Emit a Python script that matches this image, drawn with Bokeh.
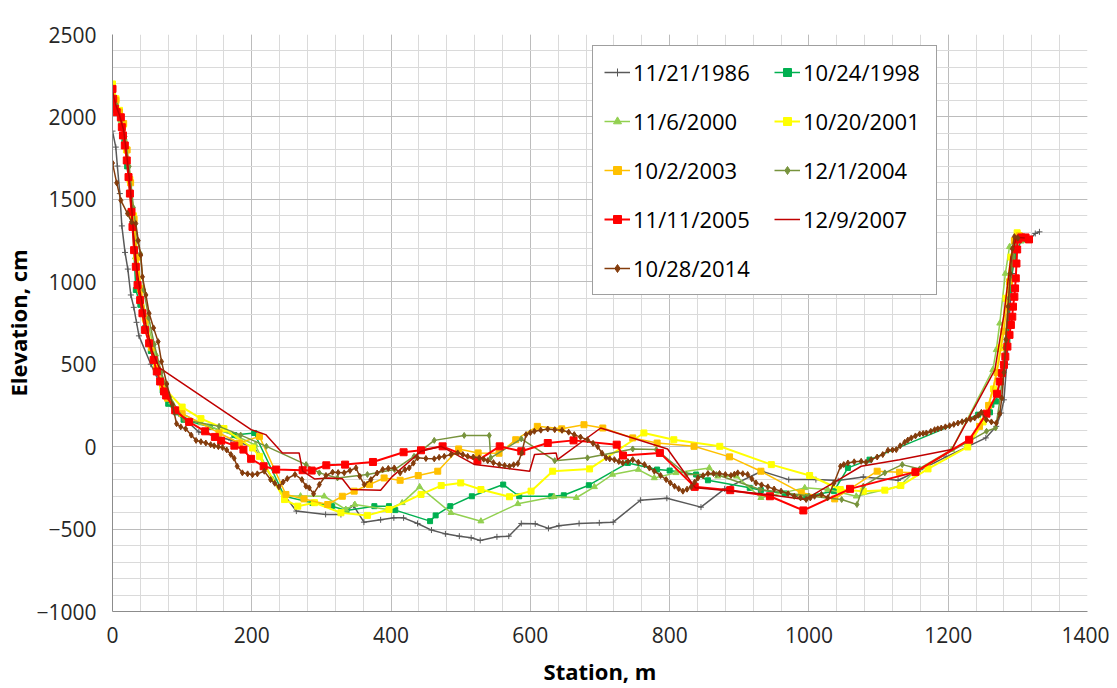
from bokeh.plotting import figure
from bokeh.models import Range1d, FixedTicker, Legend, LegendItem
from bokeh.embed import file_html
from bokeh.resources import INLINE

# ---------------- data (Station m, Elevation cm) ----------------
x_1986 = [0, 4.7, 7, 10.5, 13.4, 18, 22, 26.3, 30.6, 34.5, 38, 55, 75, 95, 124, 170, 203, 230, 264, 306, 328, 346,
          361, 385, 404, 418, 438, 458, 478, 498, 515, 528, 552, 569, 587, 607, 626, 641, 670, 699, 719, 758,
          796, 845, 879, 932, 971, 1010, 1042, 1078, 1128, 1160, 1197, 1254, 1269, 1276, 1280, 1284, 1288,
          1292, 1296, 1300, 1317, 1325, 1331]
y_1986 = [1914, 1817, 1702, 1535, 1339, 1178, 1077, 920, 845, 754, 672, 500, 320, 200, 89, 40, -2, -200, -391, -411,
          -412, -357, -458, -444, -432, -432, -466, -506, -529, -543, -553, -569, -547, -543, -466, -468, -496,
          -480, -466, -462, -458, -325, -313, -367, -256, -149, -200, -200, -206, -184, -204, -140, -62, 53,
          123, 204, 284, 500, 800, 1050, 1200, 1263, 1257, 1293, 1303]

x_1998 = [0, 4, 8, 13, 17, 21, 25, 29, 33.5, 40, 47, 55, 63, 72, 80, 91, 102, 140, 175, 203.5, 247, 287, 315,
          336, 376, 397, 406, 456, 464, 485, 516, 561, 584, 630, 648, 684, 740, 782, 800, 838, 855, 915, 931,
          965, 996, 1036, 1056, 1087, 1243, 1260, 1262, 1269, 1285, 1288, 1295, 1305, 1310]
y_1998 = [2170, 2090, 2030, 1960, 1850, 1700, 1540, 1340, 950, 860, 720, 580, 460, 340, 260, 208, 163, 120, 70,
          83, -301, -341, -361, -387, -361, -361, -385, -452, -417, -361, -301, -230, -301, -301, -295, -234,
          -99, -139, -145, -169, -204, -250, -264, -284, -301, -270, -129, -79, 194, 208, 254, 274, 647, 950,
          1150, 1252, 1260]

x_2000 = [0, 6, 12, 18, 23, 28, 33, 40, 50, 62, 72, 85, 100, 127, 180, 205, 230, 247, 270, 304, 335, 348, 395,
          416, 441, 486, 529, 582, 634, 666, 692, 718, 755, 778, 809, 857, 869, 896, 931, 994, 1027, 1068, 1130,
          1152, 1205, 1264, 1269, 1274, 1282, 1288, 1295, 1305]
y_2000 = [2150, 2060, 1980, 1850, 1650, 1400, 1150, 950, 760, 560, 400, 270, 200, 143, 60, 10, -200, -300, -300,
          -301, -381, -351, -381, -341, -244, -401, -452, -347, -304, -310, -244, -169, -139, -190, -159, -129,
          -180, -180, -310, -250, -260, -301, -240, -149, -18, 466, 587, 748, 1050, 1212, 1262, 1247]

x_2001 = [0, 5, 10, 15, 20, 25, 30, 35, 40, 47, 55, 63, 72, 100, 127, 160, 201, 211, 247, 266, 290, 328, 366,
          397, 443, 472, 500, 529, 570, 601, 632, 685, 763, 806, 872, 946, 1001, 1045, 1078, 1109, 1132, 1171,
          1228, 1250, 1265, 1275, 1283, 1290, 1299, 1305]
y_2001 = [2200, 2110, 2040, 1950, 1800, 1620, 1400, 1150, 960, 780, 620, 480, 365, 240, 170, 110, -8, -59, -321,
          -361, -340, -401, -417, -381, -290, -236, -220, -260, -304, -270, -149, -135, 83, 42, 2, -109, -175,
          -260, -270, -264, -236, -135, -2, 150, 350, 600, 900, 1150, 1297, 1270]

x_2003 = [0, 5, 10, 16, 21, 26, 31, 36, 41, 48, 56, 64, 72, 79, 100, 153, 182, 211, 249, 275, 309, 330, 347,
          369, 390, 413, 439, 467, 497, 525, 555, 579, 610, 645, 677, 704, 747, 782, 835, 886, 931, 989, 1037,
          1098, 1130, 1152, 1231, 1245, 1258, 1270, 1280, 1288, 1295, 1302]
y_2003 = [2170, 2100, 2030, 1960, 1800, 1600, 1380, 1150, 950, 770, 600, 470, 380, 294, 200, 83, 22, 62, -290,
          -317, -351, -301, -270, -230, -190, -204, -175, -149, -14, -38, -40, 42, 123, 108, 133, 113, 53, 22,
          2, -62, -149, -280, -317, -149, -155, -159, 42, 123, 250, 450, 700, 1000, 1250, 1280]

x_2004 = [0, 6, 12, 18, 24, 30, 36, 40, 45, 52, 60, 70, 82, 103, 153, 184, 221, 278, 297, 323, 366, 405, 433,
          462, 505, 541, 543, 587, 635, 682, 747, 781, 824, 867, 930, 1000, 1047, 1069, 1078, 1109, 1134, 1159,
          1255, 1268, 1275, 1281, 1287, 1293, 1300, 1310]
y_2004 = [2150, 2070, 2000, 1880, 1700, 1450, 1250, 1172, 950, 780, 620, 450, 300, 163, 123, 70, 2, -109, -159,
          -190, -169, -139, -59, 38, 68, 68, -68, 47, -85, -68, -14, -18, -169, -169, -260, -300, -321, -351,
          -240, -159, -109, -135, 93, 113, 300, 600, 900, 1150, 1270, 1265]

x_2005 = [0, 1, 3.3, 6, 12, 13.4, 15, 17.7, 20.5, 23, 25, 27.3, 28.7, 31, 33.5, 36, 39.7, 43, 46.8, 52.6, 59,
          63.6, 68.4, 74, 77, 90, 110, 133, 147, 156, 175, 188, 199, 217, 235, 273, 286, 307, 334, 374, 418,
          443, 474, 524, 556, 587, 625, 662, 724, 733, 786, 836, 887, 944, 992, 1059, 1153, 1230, 1255, 1270,
          1274, 1277, 1280, 1282, 1285, 1288, 1290, 1292, 1293, 1295, 1296, 1297, 1298, 1299, 1300, 1305, 1311,
          1316]
y_2005 = [2170, 2110, 2049, 2029, 1998, 1938, 1888, 1827, 1736, 1635, 1535, 1424, 1333, 1192, 1091, 980, 889,
          809, 708, 627, 526, 456, 395, 335, 310, 220, 150, 93, 59, 36, 6, -18, -74, -119, -139, -143, -145,
          -113, -109, -93, -34, -22, 2, -85, 2, -28, 22, 38, 12, -54, -38, -244, -264, -301, -387, -256, -153,
          42, 200, 321, 395, 446, 496, 546, 607, 678, 738, 788, 849, 909, 960, 1021, 1111, 1196, 1257, 1269,
          1269, 1257]

x_2007 = [0, 5, 10, 16, 21, 26, 30, 35, 40, 48, 57, 67, 199, 220, 244, 268, 273, 290, 310, 330, 342, 385, 402,
          443, 472, 520, 541, 599, 606, 637, 639, 701, 797, 837, 941, 994, 1043, 1075, 1130, 1205, 1267, 1280,
          1290, 1298, 1310]
y_2007 = [2150, 2070, 2010, 1920, 1750, 1550, 1300, 1080, 930, 740, 580, 480, 103, 73, -38, -38, -149, -196,
          -190, -195, -260, -264, -180, -28, 2, -109, -119, -149, -48, -38, -79, 113, -14, -250, -290, -321,
          -200, -119, -80, -18, 466, 800, 1150, 1270, 1265]

x_2014 = [0, 6, 12, 21.5, 27.3, 33.5, 37, 40.6, 43, 48, 52.6, 59, 65.5, 70.4, 78, 86, 92, 98, 105, 113, 120,
          127, 134, 141, 146, 152, 158, 164, 170, 174.7, 179, 186.5, 194, 201, 208, 218, 227, 233, 239, 245,
          251, 262, 272, 277.7, 282.5, 288.7, 297, 306.5, 316, 324, 332.7, 341, 349.6, 355, 361.5, 371, 380,
          388, 396, 404.6, 413, 420, 426, 432, 438, 450, 462, 469, 476.4, 486, 495.7, 503, 510, 518, 526.7,
          533, 538.8, 547, 555.5, 563, 570, 576, 582, 587.6, 593.8, 600, 605.8, 615, 625, 635, 645.5, 655, 663,
          672, 682, 690, 696.7, 703, 708.8, 714, 720.7, 727, 732.7, 740, 747, 755, 763.8, 771, 778, 787, 795,
          801, 807, 813, 819, 825, 831, 836, 840.6, 848, 855, 863, 871.6, 880, 888, 893, 897.8, 905, 912, 918,
          924, 932, 941, 950, 960, 970, 979, 988, 996, 1002, 1008, 1018, 1027, 1036, 1045.4, 1050, 1056, 1065,
          1075, 1082, 1089.5, 1098, 1106, 1113.5, 1120, 1125.4, 1131, 1137.5, 1142, 1147, 1153, 1159, 1164,
          1168.6, 1175, 1180.5, 1185, 1190, 1196, 1202, 1208, 1214, 1220, 1226, 1232, 1238, 1243, 1247.6,
          1254.7, 1262, 1269, 1274, 1277, 1280, 1283, 1286, 1289, 1292, 1295, 1300]
y_2014 = [1720, 1600, 1494, 1414, 1363, 1353, 1250, 1162, 1030, 920, 809, 720, 637, 516, 380, 254, 139, 120, 108,
          70, 38, 30, 22, 12, 5, 0, -5, -20, -48, -70, -119, -159, -165, -170, -165, -149, -200, -222, -244,
          -215, -194, -169, -200, -240, -250, -286, -230, -175, -155, -157, -159, -145, -129, -180, -230, -200,
          -160, -139, -132, -129, -159, -140, -129, -100, -68, -72, -74, -65, -59, -48, -38, -48, -59, -63, -68,
          -76, -85, -97, -109, -114, -119, -110, -103, -38, 73, 85, 93, 100, 107, 103, 99, 88, 73, 58, 42, 20,
          0, -40, -68, -74, -79, -90, -99, -90, -79, -95, -109, -130, -149, -175, -200, -220, -240, -255, -270,
          -258, -244, -215, -190, -176, -163, -163, -163, -169, -175, -167, -159, -164, -169, -195, -220, -232,
          -244, -257, -270, -285, -301, -311, -321, -311, -301, -290, -310, -220, -119, -109, -99, -92, -89,
          -95, -79, -63, -48, -22, -20, -18, 5, 26, 40, 53, 65, 77, 80, 83, 93, 103, 108, 113, 120, 127, 135,
          143, 151, 159, 166, 174, 190, 208, 163, 150, 143, 200, 295, 450, 650, 850, 1050, 1200, 1274, 1265]

labels = ["11/21/1986", "10/24/1998", "11/6/2000", "10/20/2001", "10/2/2003",
          "12/1/2004", "11/11/2005", "12/9/2007", "10/28/2014"]
xs = [x_1986, x_1998, x_2000, x_2001, x_2003, x_2004, x_2005, x_2007, x_2014]
ys = [y_1986, y_1998, y_2000, y_2001, y_2003, y_2004, y_2005, y_2007, y_2014]

# styles
colors = ["#595959", "#00b050", "#92d050", "#ffff00", "#ffc000", "#77933c", "#ff0000", "#c00000", "#843c0c"]
markers = ["cross", "square", "triangle", "square", "square", "diamond", "square", None, "diamond"]
msizes = [6, 5, 6, 6, 6, 6, 7, 0, 6]
lwidths = [1.5, 1.5, 1.5, 2, 1.5, 1.5, 2, 1.5, 1.5]

FONT = "Open Sans"

p = figure(width=1109, height=688, output_backend="svg", toolbar_location=None,
           x_range=Range1d(0, 1400), y_range=Range1d(-1000, 2500),
           min_border_left=112, min_border_right=22, min_border_top=34, min_border_bottom=75)
p.outline_line_color = None
p.background_fill_color = "white"

p.xaxis.ticker = FixedTicker(ticks=list(range(0, 1401, 200)), minor_ticks=list(range(0, 1401, 40)))
p.yaxis.ticker = FixedTicker(ticks=list(range(-1000, 2501, 500)), minor_ticks=list(range(-1000, 2501, 100)))
for g in (p.xgrid, p.ygrid):
    g.grid_line_color = "#bcbcbc"
    g.grid_line_width = 1
    g.minor_grid_line_color = "#dadada"
    g.minor_grid_line_width = 1

for ax in (p.xaxis, p.yaxis):
    ax.axis_line_color = "#8c8c8c"
    ax.major_tick_out = 0
    ax.major_tick_in = 0
    ax.minor_tick_out = 0
    ax.minor_tick_in = 0
    ax.major_label_text_font = FONT
    ax.major_label_text_font_size = "21px"
    ax.major_label_text_color = "#262626"
    ax.axis_label_text_font = FONT
    ax.axis_label_text_font_size = "22px"
    ax.axis_label_text_font_style = "bold"
    ax.axis_label_text_color = "#000000"

p.xaxis.axis_label = "Station, m"
p.yaxis.axis_label = "Elevation, cm"
p.xaxis.major_label_standoff = 15
p.xaxis.axis_label_standoff = 10
p.yaxis.major_label_standoff = 16
p.yaxis.axis_label_standoff = 0

items = {}
for lab, x, y, c, m, s, w in zip(labels, xs, ys, colors, markers, msizes, lwidths):
    rs = [p.line(x, y, line_color=c, line_width=w)]
    if m is not None:
        rs.append(p.scatter(x, y, marker=m, size=s, fill_color=c, line_color=c))
    items[lab] = LegendItem(label=lab, renderers=rs)

# legend grid is filled column by column: column 1 then column 2
order = [0, 2, 4, 6, 8, 1, 3, 5, 7]
legend = Legend(items=[items[labels[i]] for i in order], location=(480, 316), ncols=2)
legend.border_line_color = "#404040"
legend.border_line_width = 1
legend.background_fill_color = "white"
legend.background_fill_alpha = 1
legend.label_text_font = FONT
legend.label_text_font_size = "22px"
legend.label_text_color = "#000000"
legend.glyph_width = 26
legend.glyph_height = 20
legend.label_standoff = 3
legend.label_height = 30
legend.label_width = 122
legend.spacing = 19
legend.padding = 11
legend.margin = 0
p.add_layout(legend)

open("out.html", "w").write(file_html(p, INLINE))
